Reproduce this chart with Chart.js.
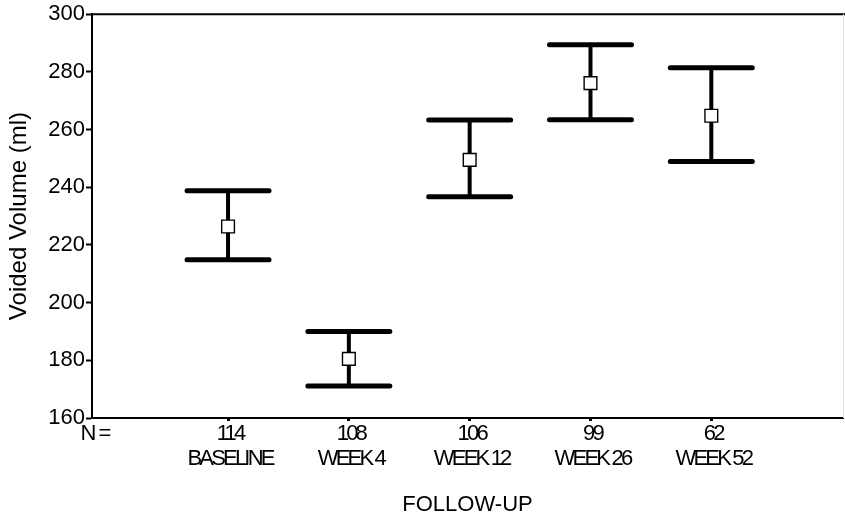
<!DOCTYPE html>
<html>
<head>
<meta charset="utf-8">
<script src="https://cdn.jsdelivr.net/npm/chart.js@4/dist/chart.umd.min.js"></script>
<style>
  html, body { margin: 0; padding: 0; background: #fff; }
  #wrap { width: 845px; height: 517px; position: relative; }
</style>
</head>
<body>
<div id="wrap"><canvas id="c" width="845" height="517"></canvas></div>
<script>
const categories = ['BASELINE', 'WEEK 4', 'WEEK 12', 'WEEK 26', 'WEEK 52'];
const nValues = [114, 108, 106, 99, 62];
const means = [226.4, 180.5, 249.5, 276.1, 264.8];
const upperCI = [238.8, 190.0, 263.3, 289.4, 281.4];
const lowerCI = [214.9, 171.1, 236.7, 263.4, 248.9];
const yTicks = [160, 180, 200, 220, 240, 260, 280, 300];
const nLabel = 'N =';
const xTitle = 'FOLLOW-UP';
const yTitle = 'Voided Volume (ml)';

const positions = categories.map((_, i) => i + 1);
const points = positions.map((x, i) => ({ x: x, y: means[i] }));

const mainFont = '"Liberation Sans", Arial, Helvetica, sans-serif';

const errorBarPlugin = {
  id: 'errorBars',
  beforeDatasetsDraw(chart) {
    const ctx = chart.ctx;
    const xs = chart.scales.x, ys = chart.scales.y;
    ctx.save();
    ctx.strokeStyle = '#000';
    ctx.lineCap = 'round';
    positions.forEach((p, i) => {
      const px = xs.getPixelForValue(p);
      const yt = ys.getPixelForValue(upperCI[i]);
      const yb = ys.getPixelForValue(lowerCI[i]);
      const half = 41;
      ctx.lineWidth = 4;
      ctx.beginPath();
      ctx.moveTo(px, yt); ctx.lineTo(px, yb);
      ctx.stroke();
      ctx.lineWidth = 5;
      ctx.beginPath();
      ctx.moveTo(px - half, yt); ctx.lineTo(px + half, yt);
      ctx.moveTo(px - half, yb); ctx.lineTo(px + half, yb);
      ctx.stroke();
    });
    ctx.restore();
  },
  afterDraw(chart) {
    const ctx = chart.ctx;
    const a = chart.chartArea;
    const xs = chart.scales.x;
    ctx.save();
    // top frame line
    ctx.strokeStyle = '#000';
    ctx.lineWidth = 2;
    ctx.beginPath();
    ctx.moveTo(a.left, a.top);
    ctx.lineTo(845, a.top);
    ctx.stroke();
    // faint right edge
    ctx.strokeStyle = '#e6e6e6';
    ctx.lineWidth = 1;
    ctx.beginPath();
    ctx.moveTo(a.right + 0.5, a.top);
    ctx.lineTo(a.right + 0.5, a.bottom);
    ctx.stroke();
    // category tick labels (tight letter spacing as in the original)
    ctx.fillStyle = '#000';
    ctx.font = '22px ' + mainFont;
    ctx.letterSpacing = '-2.8px';
    ctx.textAlign = 'center';
    ctx.textBaseline = 'middle';
    positions.forEach((p, i) => {
      const px = xs.getPixelForValue(p) + 2;
      ctx.fillText(String(nValues[i]), px, a.bottom + 16);
      ctx.fillText(categories[i], px, a.bottom + 41);
    });
    ctx.letterSpacing = '-2px';
    ctx.fillText(nLabel, a.left + 3, a.bottom + 16);
    ctx.restore();
  }
};

new Chart(document.getElementById('c'), {
  type: 'scatter',
  data: {
    datasets: [{
      data: points,
      pointStyle: 'rect',
      pointRadius: 9,
      pointHoverRadius: 9,
      backgroundColor: '#fff',
      borderColor: '#000',
      borderWidth: 1.4,
      showLine: false
    }]
  },
  options: {
    responsive: false,
    animation: false,
    events: [],
    layout: { autoPadding: false, padding: { top: 14, right: 2, bottom: 0, left: 0 } },
    plugins: { legend: { display: false }, tooltip: { enabled: false } },
    scales: {
      x: {
        type: 'linear',
        min: -0.126,
        max: 6.09,
        afterBuildTicks(scale) { scale.ticks = positions.map(v => ({ value: v })); },
        afterFit(scale) { scale.height = 99; },
        grid: { display: true, drawOnChartArea: false, drawTicks: true, tickLength: 3, tickWidth: 3, tickColor: '#000' },
        border: { display: true, color: '#000', width: 2 },
        ticks: { display: false },
        title: {
          display: true,
          text: xTitle,
          color: '#000',
          font: { family: mainFont, size: 22 },
          padding: { top: 0, bottom: -1 }
        }
      },
      y: {
        min: 160,
        max: 300,
        afterBuildTicks(scale) { scale.ticks = yTicks.map(v => ({ value: v })); },
        afterFit(scale) { scale.width = 92; },
        grid: { display: true, drawOnChartArea: false, drawTicks: true, tickLength: 6, tickWidth: 2, tickColor: '#000' },
        border: { display: true, color: '#000', width: 2 },
        ticks: {
          padding: 1,
          color: '#000',
          font: { family: mainFont, size: 22 }
        },
        title: {
          display: true,
          text: yTitle,
          color: '#000',
          font: { family: mainFont, size: 24 },
          padding: { top: 5, bottom: 0 }
        }
      }
    }
  },
  plugins: [errorBarPlugin]
});
</script>
</body>
</html>
